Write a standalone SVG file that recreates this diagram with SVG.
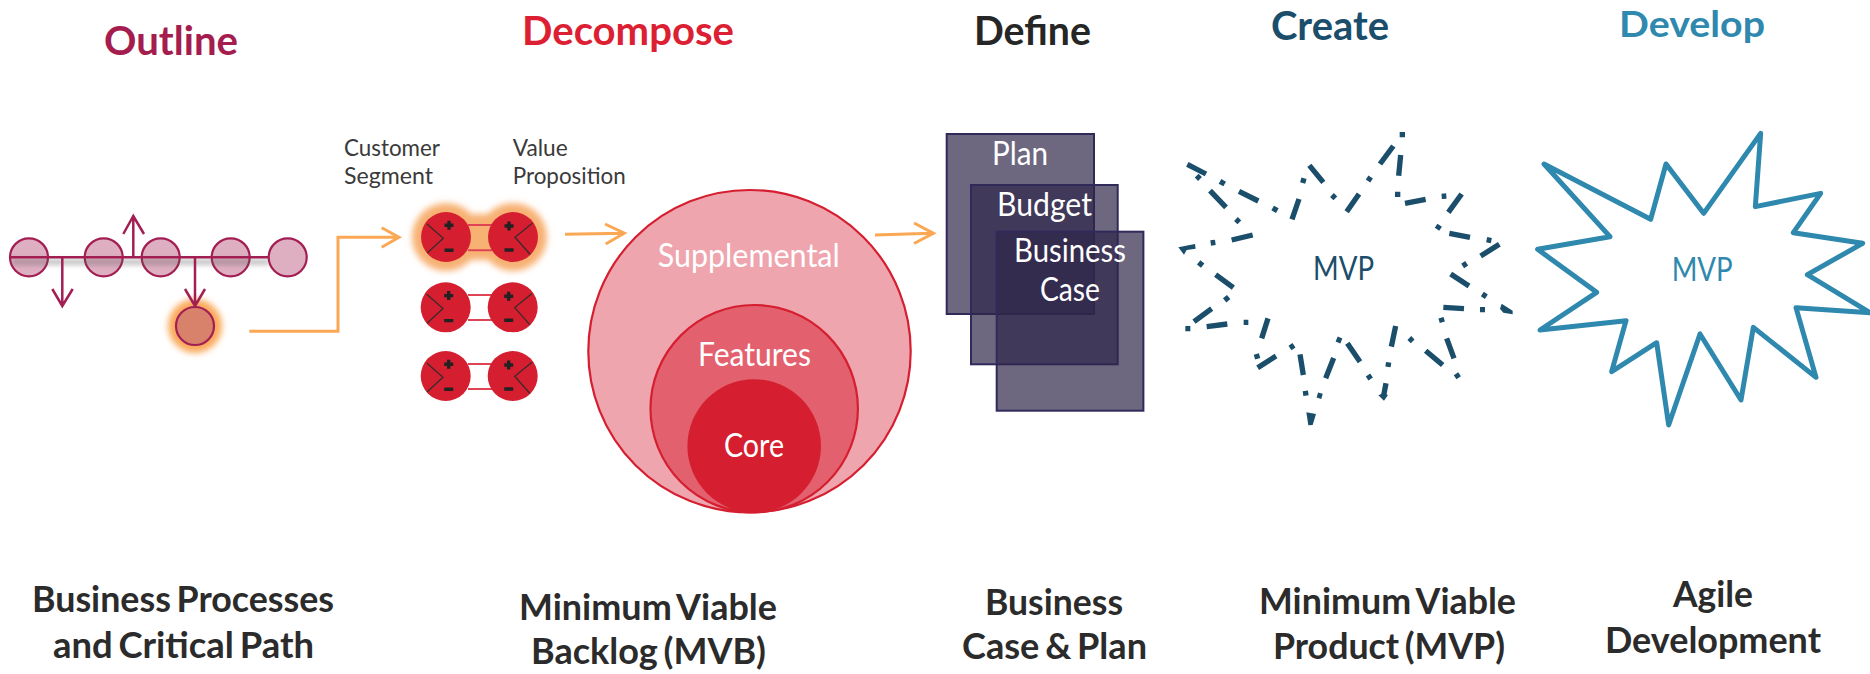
<svg xmlns="http://www.w3.org/2000/svg" xmlns:xlink="http://www.w3.org/1999/xlink" width="1870" height="674" viewBox="0 0 1870 674">
<style>
text{font-family:Lato,"Open Sans","Liberation Sans",sans-serif}
.h{font-weight:700;font-size:40px}
.b{font-weight:700;font-size:36px;fill:#2b2b2b;word-spacing:-3px}
.l{font-size:24px;fill:#3a3a3a}
.w{font-size:32px;fill:#fff}
.m{font-size:32px}
.pc{fill:#deafc1;stroke:#a31f53;stroke-width:2.2}
.pl{fill:none;stroke:#a31f53;stroke-width:2.5}
.o{fill:none;stroke:#fba855;stroke-width:3}
.rc{fill:#d51f30}
.rl{stroke:#de4454;stroke-width:2;fill:none}
.ic{fill:none;stroke:#3a2a2a;stroke-width:1.3}
.pm{fill:none;stroke:#222;stroke-width:3.4}
.doc{fill:#2f274a;fill-opacity:.7;stroke:#2f2a5a;stroke-width:2}
</style>
<defs>
<filter id="g" x="-40%" y="-40%" width="180%" height="180%"><feGaussianBlur stdDeviation="3"/></filter>
<filter id="s" x="-5%" y="-200%" width="110%" height="500%"><feGaussianBlur stdDeviation="2.5"/></filter>
<g id="cl"><circle class="rc" r="25"/><path class="ic" d="M-19-13L-2.700 1.300L-18.700 16"/><path class="pm" d="M-1.500-11.700H7.500M3-16.200V-7.200M-1.500 13.300H7.500"/></g>
<g id="cr"><circle class="rc" r="25"/><path class="ic" d="M19.300-13.700L2 .3L17 17.300"/><path class="pm" d="M-8.500-11H.5M-4-15.500V-6.500M-8.500 13H.5"/></g>
</defs>

<g id="title-outline"><text class="h" x="104" y="55" fill="#a51c4e" textLength="134" lengthAdjust="spacingAndGlyphs">Outline</text></g>
<g id="title-decompose"><text class="h" x="522" y="45" fill="#dc1f33" textLength="212" lengthAdjust="spacingAndGlyphs">Decompose</text></g>
<g id="title-define"><text class="h" x="974" y="44.500" fill="#262626" textLength="117" lengthAdjust="spacingAndGlyphs">Define</text></g>
<g id="title-create"><text class="h" x="1271" y="40" fill="#1a4e6b" textLength="118" lengthAdjust="spacingAndGlyphs">Create</text></g>
<g id="title-develop"><text class="h" x="1619" y="37" style="font-size:37px" fill="#2f88ad" textLength="146" lengthAdjust="spacingAndGlyphs">Develop</text></g>

<g id="process-line">
<circle class="pc" cx="29" cy="257.300" r="19"/>
<circle class="pc" cx="103.700" cy="257.300" r="19"/>
<circle class="pc" cx="160.700" cy="257.300" r="19"/>
<circle class="pc" cx="230.700" cy="257.300" r="19"/>
<rect x="12" y="259" width="258" height="6" fill="#555" fill-opacity=".35" filter="url(#s)"/>
<circle class="pc" cx="287.700" cy="257.300" r="19"/>
<path class="pl" d="M10 257.300H269"/>
<path class="pl" d="M62.300 257.300V305M52.300 289L62.300 306L72.700 289"/>
<path class="pl" d="M133.300 258V217M123.300 234L133.300 216L144 234"/>
</g>
<g id="critical-node">
<circle cx="195" cy="326" r="27" fill="#f9a95a" filter="url(#g)"/>
<circle cx="195" cy="326" r="19" fill="#d8826b" stroke="#a31f53" stroke-width="2.200"/>
<path class="pl" d="M195 257.300V305M185 289L195 306L205 289"/>
</g>

<g id="label-customer"><text class="l" x="344" y="156" textLength="96" lengthAdjust="spacingAndGlyphs">Customer</text><text class="l" x="344" y="184" textLength="89" lengthAdjust="spacingAndGlyphs">Segment</text></g>
<g id="label-value"><text class="l" x="512.700" y="156" textLength="55" lengthAdjust="spacingAndGlyphs">Value</text><text class="l" x="512.700" y="184" textLength="113" lengthAdjust="spacingAndGlyphs">Proposition</text></g>

<g id="pair-1">
<g filter="url(#g)" fill="#f7b173"><circle cx="446" cy="237" r="34"/><circle cx="513" cy="237" r="34"/><rect x="446" y="214" width="67" height="46"/></g>
<path class="rl" d="M468 225H492M468 250.300H492"/>
<use href="#cl" x="446" y="237"/><use href="#cr" x="513" y="237"/>
</g>
<g id="pair-2">
<path class="rl" d="M468 295H492M468 320H492"/>
<use href="#cl" x="445.700" y="307.300"/><use href="#cr" x="512.700" y="307.300"/>
</g>
<g id="pair-3">
<path class="rl" d="M468 364H492M468 389H492"/>
<use href="#cl" x="445.700" y="376"/><use href="#cr" x="512.700" y="376"/>
</g>

<g id="venn-supplemental"><circle cx="749.500" cy="351.200" r="161.200" fill="#efa5ae" stroke="#d51f30" stroke-width="2.200"/><text class="w" x="657.700" y="266.700" textLength="182" lengthAdjust="spacingAndGlyphs">Supplemental</text></g>
<g id="venn-features"><circle cx="754.200" cy="408.700" r="103.700" fill="#e3616e" stroke="#d51f30" stroke-width="2.200"/><text class="w" x="698" y="365.700" textLength="113" lengthAdjust="spacingAndGlyphs">Features</text></g>
<g id="venn-core"><circle cx="754.200" cy="446" r="66.800" fill="#d51f30"/><text class="w" x="724" y="456.700" textLength="60" lengthAdjust="spacingAndGlyphs">Core</text></g>

<g id="doc-plan"><rect class="doc" x="946.700" y="134" width="147.300" height="180"/></g>
<g id="doc-budget"><rect class="doc" x="971" y="185" width="146.700" height="179.300"/></g>
<g id="doc-case"><rect class="doc" x="996.700" y="231.700" width="146.700" height="179"/></g>
<g id="doc-labels">
<text class="w" x="992" y="165" textLength="56" lengthAdjust="spacingAndGlyphs">Plan</text>
<text class="w" x="997" y="215.700" textLength="95" lengthAdjust="spacingAndGlyphs">Budget</text>
<text class="w" x="1014" y="261.700" textLength="112" lengthAdjust="spacingAndGlyphs">Business</text>
<text class="w" x="1040" y="301" textLength="60" lengthAdjust="spacingAndGlyphs">Case</text>
</g>

<g id="star-create">
<g transform="translate(1170 120) scale(.33333)" fill="#1a4e6b" stroke="none">
<path fill="none" stroke="#1a4e6b" stroke-width="16" d="M52 133L108 162M207 214L265 243M387 237L366 298M418 136L460 187M530 275L567 222M630 132L670 78M692 105L686 167M705 250L767 238M875 222L835 277M838 340L900 352M988 373L932 408M842 462L897 498M882 566L820 562M830 655L852 715M818 735L767 692M677 618L664 680M648 790L640 832M570 725L532 670M491 714L467 775M400 765L390 703M318 708L263 743M294 595L275 655M172 612L110 620M72 605L125 566M190 503L137 464M185 360L248 345M168 262L120 212"/>
<path fill="none" stroke="#1a4e6b" stroke-width="16" d="M150 184L164 192M308 264L322 272M398 189L402 175M486 225L496 235M594 183L602 171M697 36V52M683 215V231M815 229L829 228M801 328L809 316M950 359L964 362M878 438L890 430M937 522L949 530M930 569H945M813 593L817 607M858 761L866 773M718 654L728 664M656 727L654 741M594 765L602 777M500 657L514 663M442 825L456 829M406 813L408 827M360 684L372 676M259 702L263 716M221 607H235M46 626H61M164 541L176 531M86 427L98 437M122 369L136 367M198 297L208 307M80 167L90 177"/>
<path d="M25 382L75 372L77 386L50 390L42 404ZM995 551L1028 572L1028 583L1000 578L990 566ZM409 877L438 882L428 915L415 916ZM640 820L654 825L642 842L625 826Z"/>
</g>
<text class="m" x="1313" y="280" fill="#1a4e6b" textLength="61" lengthAdjust="spacingAndGlyphs">MVP</text>
</g>

<g id="star-develop">
<polygon transform="translate(1520 120) scale(.33333)" fill="none" stroke="#2f88ad" stroke-width="15" stroke-linejoin="round" points="72,132 392,298 438,132 551,280 722,40 706,260 902,220 820,338 1028,370 862,464 1050,578 828,563 888,772 700,622 663,840 540,642 446,915 410,668 275,755 318,602 60,630 230,517 53,388 270,350"/>
<text class="m" x="1671.700" y="281" fill="#2f88ad" textLength="61" lengthAdjust="spacingAndGlyphs">MVP</text>
</g>

<g id="connectors">
<path class="o" d="M249.300 331.300H338V237.300H398M381.700 227.700L399 237.300L381.700 247.300"/>
<path class="o" d="M565 234.300L623 233.200M605 224L624.300 233.200L605.700 244"/>
<path class="o" d="M875 235L932 233.300M914 223L933.500 233.300L914 243.500"/>
</g>

<g id="caption-outline"><text class="b" x="32" y="612" textLength="302" lengthAdjust="spacingAndGlyphs">Business Processes</text><text class="b" x="53" y="657.700" textLength="261" lengthAdjust="spacingAndGlyphs">and Critical Path</text></g>
<g id="caption-decompose"><text class="b" x="519" y="620" textLength="258" lengthAdjust="spacingAndGlyphs">Minimum Viable</text><text class="b" x="531" y="664" textLength="235" lengthAdjust="spacingAndGlyphs">Backlog (MVB)</text></g>
<g id="caption-define"><text class="b" x="985" y="615" textLength="138" lengthAdjust="spacingAndGlyphs">Business</text><text class="b" x="962" y="659" textLength="185" lengthAdjust="spacingAndGlyphs">Case &amp; Plan</text></g>
<g id="caption-create"><text class="b" x="1259" y="614" textLength="257" lengthAdjust="spacingAndGlyphs">Minimum Viable</text><text class="b" x="1273" y="659" textLength="232" lengthAdjust="spacingAndGlyphs">Product (MVP)</text></g>
<g id="caption-develop"><text class="b" x="1673" y="607" textLength="80" lengthAdjust="spacingAndGlyphs">Agile</text><text class="b" x="1605" y="653" textLength="216" lengthAdjust="spacingAndGlyphs">Development</text></g>
</svg>
